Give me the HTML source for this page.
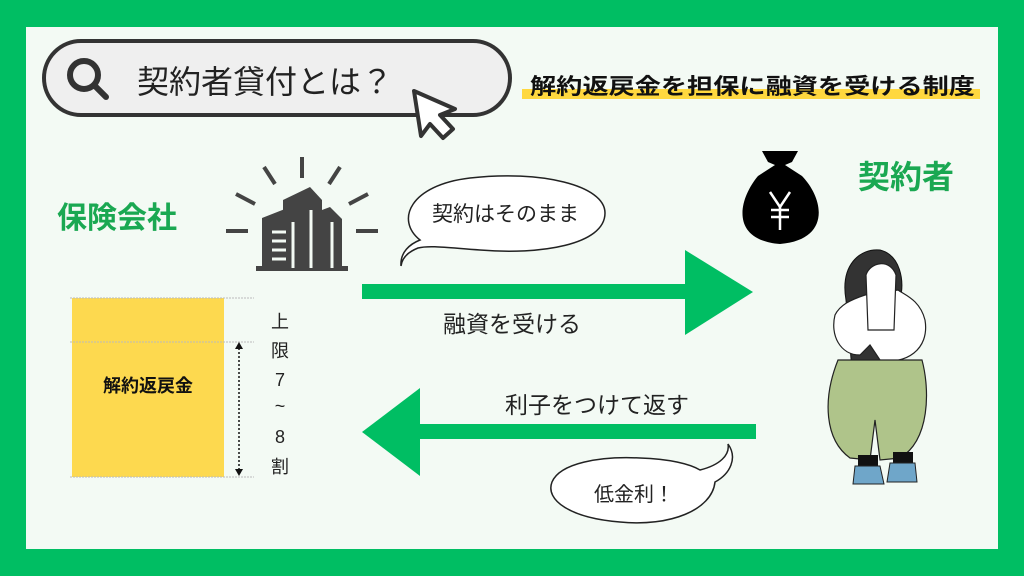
<!DOCTYPE html>
<html><head><meta charset="utf-8"><style>
body{margin:0;width:1024px;height:576px;overflow:hidden;background:#00BE63}
svg{display:block}
text{font-family:"Liberation Sans","Noto Sans CJK JP",sans-serif}
</style></head><body>
<svg width="1024" height="576" viewBox="0 0 1024 576">
<rect x="0" y="0" width="1024" height="576" fill="#00BE63"/>
<rect x="26" y="27" width="972" height="522" fill="#F3FAF4"/>
<!-- search pill -->
<rect x="44" y="41" width="466" height="74" rx="37" fill="#efefef" stroke="#333" stroke-width="4"/>
<circle cx="84" cy="75" r="14" fill="none" stroke="#333" stroke-width="6"/>
<line x1="95" y1="86" x2="106" y2="97" stroke="#333" stroke-width="6" stroke-linecap="round"/>
<text x="137" y="93" font-size="32" fill="#222">契約者貸付とは？</text>
<path d="M414,91 L455,109 L440,115 L453,129 L443,138 L430,124 L421,136 Z" fill="#fff" stroke="#333" stroke-width="4" stroke-linejoin="round"/>
<!-- subtitle -->
<rect x="522" y="89" width="458" height="10" fill="#FFD83F"/>
<text x="530" y="94" font-size="22" font-weight="bold" fill="#111" textLength="445" lengthAdjust="spacingAndGlyphs">解約返戻金を担保に融資を受ける制度</text>
<!-- insurance -->
<text x="57" y="228" font-size="30" font-weight="bold" fill="#1AA852">保険会社</text>
<g stroke="#444" stroke-width="4">
<line x1="302" y1="157" x2="302" y2="178"/>
<line x1="264" y1="167" x2="275" y2="184"/><line x1="340" y1="167" x2="329" y2="184"/>
<line x1="236" y1="194" x2="255" y2="204"/><line x1="368" y1="194" x2="349" y2="204"/>
<line x1="226" y1="231" x2="248" y2="231"/><line x1="356" y1="231" x2="378" y2="231"/>
</g>
<g fill="#444">
<polygon points="283,200 310,187 322,200 322,268 283,268"/>
<polygon points="262,218 290,207 300,218 300,268 262,268"/>
<polygon points="322,210 330,207 342,219 342,268 322,268"/>
<rect x="256" y="266" width="92" height="5"/>
</g>
<g stroke="#F3FAF4" stroke-width="3">
<line x1="272" y1="232" x2="286" y2="232"/><line x1="272" y1="241" x2="286" y2="241"/><line x1="272" y1="250" x2="286" y2="250"/><line x1="272" y1="259" x2="286" y2="259"/>
<line x1="311" y1="210" x2="311" y2="268"/><line x1="332" y1="222" x2="332" y2="268"/><line x1="293" y1="222" x2="293" y2="268"/>
</g>
<!-- bubble 1 -->
<path d="M420,240 C395,220 410,185 470,178 C540,170 605,185 605,213 C605,245 540,255 480,250 C450,248 430,245 418,248 C408,252 402,258 401,266 C400,252 410,244 420,240 Z" fill="#fff" stroke="#222" stroke-width="1.5"/>
<text x="432" y="221" font-size="21" fill="#222">契約はそのまま</text>
<!-- arrows -->
<rect x="362" y="284" width="325" height="15" fill="#00BE63"/>
<polygon points="685,250 753,292 685,335" fill="#00BE63"/>
<text x="443" y="332" font-size="23" fill="#222">融資を受ける</text>
<rect x="418" y="424" width="338" height="15" fill="#00BE63"/>
<polygon points="420,388 362,432 420,476" fill="#00BE63"/>
<text x="505" y="413" font-size="23" fill="#222">利子をつけて返す</text>
<!-- bubble 2 -->
<path d="M700,470 C720,465 730,455 728,444 C738,458 730,474 715,482 C712,510 670,527 620,522 C570,518 545,500 552,482 C560,463 600,456 640,458 C670,459 690,464 700,470 Z" fill="#fff" stroke="#222" stroke-width="1.5"/>
<text x="594" y="501" font-size="20" fill="#222">低金利！</text>
<!-- yellow box -->
<rect x="72" y="298" width="152" height="179" fill="#FDD94F"/>
<g stroke="#bbb" stroke-width="1" stroke-dasharray="2,1">
<line x1="70" y1="298" x2="254" y2="298"/><line x1="70" y1="342" x2="254" y2="342"/><line x1="70" y1="477" x2="254" y2="477"/>
</g>
<text x="148" y="392" font-size="18" font-weight="bold" fill="#111" text-anchor="middle">解約返戻金</text>
<line x1="239" y1="348" x2="239" y2="470" stroke="#111" stroke-width="1.5" stroke-dasharray="2,2"/>
<polygon points="235,349 243,349 239,342" fill="#111"/><polygon points="235,469 243,469 239,476" fill="#111"/>
<g font-size="18" fill="#222" text-anchor="middle">
<text x="280" y="328">上</text><text x="280" y="357">限</text><text x="280" y="386">7</text><text x="280" y="412">~</text><text x="280" y="443">8</text><text x="280" y="473">割</text>
</g>
<!-- money bag -->
<path d="M762,151 L798,151 L792,162 L785,165 L802,176 C825,200 830,240 780,244 C730,240 738,200 758,176 L775,165 L768,162 Z" fill="#000"/>
<g stroke="#fff" stroke-width="2.5" fill="none">
<polyline points="770,192 780,207 790,192"/><line x1="780" y1="207" x2="780" y2="230"/>
<line x1="771" y1="210" x2="789" y2="210"/><line x1="771" y1="217" x2="789" y2="217"/>
</g>
<text x="858" y="188" font-size="32" font-weight="bold" fill="#1AA852">契約者</text>
<!-- girl -->
<path d="M846,300 C840,265 860,248 880,250 C900,255 905,280 900,300 L895,370 L852,370 Z" fill="#333" stroke="#111" stroke-width="1"/>
<path d="M835,315 C830,335 840,355 860,355 L870,345 L880,360 C905,365 930,350 925,320 C920,300 905,295 898,290 L865,295 C850,300 840,305 835,315 Z" fill="#fff" stroke="#222" stroke-width="1.2"/>
<path d="M866,275 C870,262 890,258 896,275 L894,330 L868,330 Z" fill="#fff" stroke="#222" stroke-width="1.2"/>
<path d="M838,360 C822,400 825,440 850,458 L870,460 L875,420 L880,460 L900,458 C930,440 930,390 922,360 Z" fill="#AFC48A" stroke="#222" stroke-width="1.2"/>
<rect x="858" y="455" width="20" height="12" fill="#111"/><rect x="893" y="452" width="20" height="12" fill="#111"/>
<path d="M855,466 L880,466 L884,484 L853,484 Z" fill="#6FA6C9" stroke="#222"/>
<path d="M890,463 L915,463 L917,482 L887,482 Z" fill="#6FA6C9" stroke="#222"/>
</svg>
</body></html>
